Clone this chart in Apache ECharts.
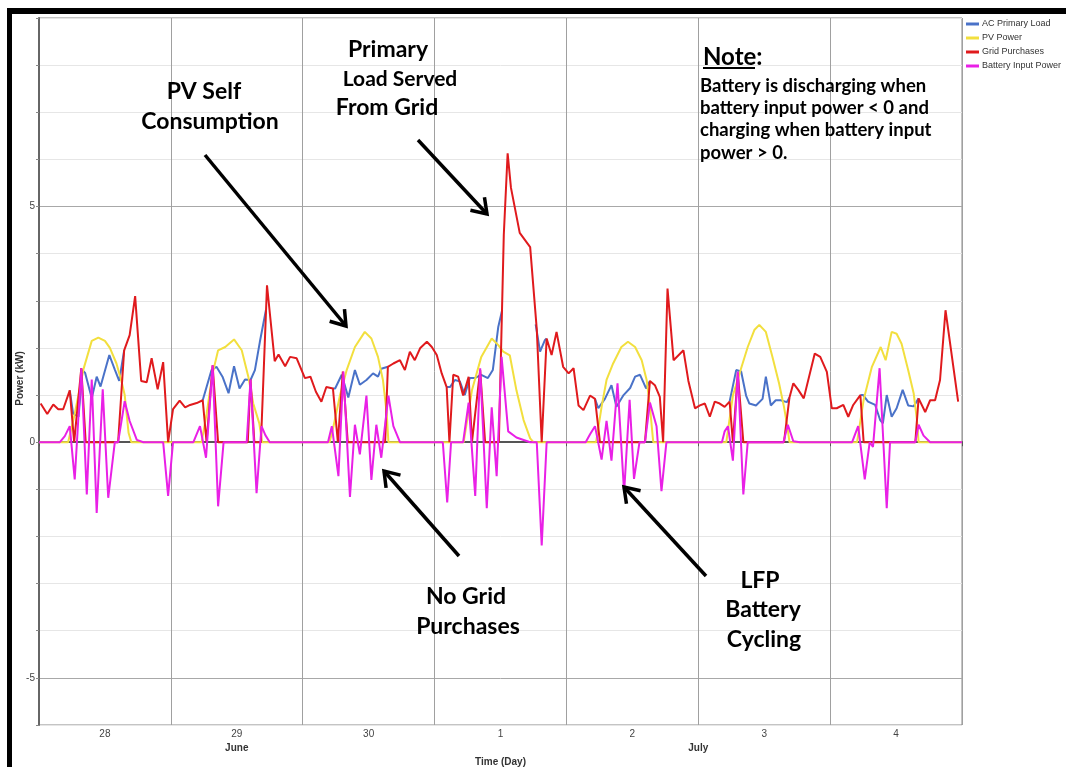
<!DOCTYPE html>
<html lang="en">
<head>
<meta charset="UTF-8">
<title>Power (kW)</title>
<script src="https://cdn.jsdelivr.net/npm/echarts@6/dist/echarts.min.js"></script>
<style>
html, body { margin: 0; padding: 0; background: #fff; }
#chart { width: 1066px; height: 767px; }
</style>
</head>
<body>
<div id="chart"></div>
<script>
// x = hours since start of 28 June, y = kW
var dayLabels = ['28', '29', '30', '1', '2', '3', '4'];
var monthTicks = [36, 120];
var monthNames = ['June', 'July'];
var legendNames = ['AC Primary Load', 'PV Power', 'Grid Purchases', 'Battery Input Power'];

// '-' breaks the line (load is hidden under grid purchases at night)
var acLoad = [
    [5.6,1.1],[6.2,0.61],[7.2,0.54],[7.9,1.53],[8.4,1.47],[9.6,0.93],[10.5,1.39],[11.2,1.18],[12.8,1.85],[13.8,1.54],[14.6,1.3],[15.5,1.95],[16,'-'],
    [29.8,0.89],[31.4,1.53],[32.3,1.6],[33.4,1.39],[34.5,1.04],[35.5,1.61],[36.5,1.14],[37.5,1.33],[38.5,1.32],[39.3,1.53],[40.2,2.13],[41.3,2.8],[42,'-'],
    [53.5,1.14],[53.9,1.14],[55.1,1.43],[56.3,0.95],[57.5,1.53],[58.4,1.22],[59.6,1.32],[60.8,1.46],[61.7,1.39],[62.3,1.56],[63.5,1.6],[64,'-'],
    [74.2,1.17],[74.8,1.17],[75.7,1.32],[76.6,1.29],[77.5,1.0],[78.4,1.36],[79.3,1.36],[80.5,1.43],[81.7,1.36],[82.6,1.53],[83.6,2.45],[84.3,2.8],[85,'-'],
    [90.4,2.5],[91.2,1.92],[92.1,2.17],[92.4,2.2],[93,'-'],
    [101.2,0.92],[101.8,0.72],[103.0,0.92],[104.2,1.21],[105.1,0.75],[106.4,1.0],[107.6,1.15],[108.5,1.39],[109.4,1.43],[110.5,1.14],[111.2,1.3],[112,'-'],
    [125.7,0.86],[126.9,1.53],[127.8,1.5],[128.7,0.99],[129.3,0.82],[130.5,0.78],[131.7,0.92],[132.3,1.39],[133.2,0.78],[134.1,0.89],[135.0,0.89],[136.1,0.85],[136.6,0.95],[137,'-'],
    [149.5,1.0],[150.0,1.0],[150.9,0.86],[152.2,0.79],[153.1,0.47],[153.6,0.4],[154.3,1.0],[155.2,0.54],[156.1,0.72],[157.2,1.11],[158.2,0.78],[159.2,0.76],[160.1,0.93]
];

var pvPower = [
    [0,0],[5.3,0],[6.5,0.6],[8.1,1.55],[9.6,2.15],[10.8,2.22],[12.0,2.15],[12.9,2.0],[14.1,1.67],[15.0,1.3],[15.6,1.0],[16.3,0.2],[16.8,0],
    [29.6,0],[30.5,0.6],[31.6,1.46],[32.6,1.95],[33.9,2.02],[35.5,2.18],[36.9,1.95],[38.1,1.39],[39.0,0.82],[40.1,0.4],[40.6,0],
    [52.9,0],[53.6,0.34],[54.8,1.0],[56.0,1.53],[57.5,2.02],[59.3,2.34],[60.5,2.2],[61.7,1.81],[62.6,1.32],[63.3,0.6],[63.6,0],
    [77.3,0],[78.8,1.1],[80.5,1.81],[82.4,2.2],[83.6,2.06],[84.5,1.92],[85.7,1.84],[86.9,1.1],[88.2,0.47],[89.4,0.08],[90,0],
    [101.4,0],[102.4,0.75],[103.3,1.32],[104.5,1.67],[106.0,2.02],[107.2,2.13],[108.5,2.02],[109.7,1.74],[110.6,1.32],[111.2,0.75],[111.8,0],
    [125.1,0],[126.3,0.99],[127.8,1.57],[129.0,2.02],[130.2,2.38],[131.1,2.49],[132.3,2.34],[133.5,1.81],[134.7,1.25],[135.6,0.75],[136.2,0.34],[136.6,0],
    [148.9,0],[150.1,0.9],[151.6,1.6],[153.2,2.02],[154.1,1.74],[155.2,2.34],[156.1,2.3],[157.0,2.09],[158.2,1.53],[159.2,1.04],[159.8,0.47],[160.1,0],[168,0]
];

var gridPurchases = [
    [0.3,0.82],[1.5,0.6],[2.6,0.8],[3.5,0.7],[4.4,0.7],[5.6,1.1],[6.4,0],[7.7,1.57],[8.5,0],[14.4,0],[15.5,1.95],[16.5,2.27],[17.5,3.1],[18.6,1.3],[19.6,1.27],[20.5,1.78],[21.6,1.12],[22.6,1.7],[23.5,0],
    [24.4,0.7],[25.6,0.88],[26.6,0.74],[27.5,0.79],[28.7,0.83],[29.8,0.89],[30.5,0],[31.6,1.63],[32.6,0],[38.0,0],[38.5,1.33],[39.2,0],[40.4,0],[41.5,3.33],[42.9,1.72],[43.6,1.86],[44.8,1.61],[45.7,1.81],[46.9,1.78],
    [48.4,1.36],[49.4,1.39],[50.4,1.07],[51.4,0.86],[52.3,1.17],[53.5,1.14],[54.4,0],[55.3,1.5],[56.2,0],[63.0,0],[63.5,1.6],[64.5,1.67],[65.7,1.74],[66.6,1.53],[67.5,1.92],[68.4,1.74],[69.4,2.0],[70.6,2.13],[71.5,2.02],
    [72.4,1.85],[73.3,1.46],[74.2,1.17],[74.7,0],[75.4,1.43],[76.3,1.39],[77.2,0.99],[78.2,1.39],[78.8,0],[80.3,1.53],[81.2,0],[83.7,0],[84.6,4.4],[85.3,6.13],[85.9,5.4],[87.5,4.44],[89.4,4.14],[90.6,2.4],[91.5,0],[92.4,2.2],[93.3,1.85],[94.2,2.34],[95.4,1.6],
    [96.4,1.46],[97.3,1.57],[98.2,0.78],[99.1,0.68],[100.3,0.99],[101.2,0.92],[102.1,0],[110.3,0],[111.2,1.3],[112.1,1.21],[113.0,0.96],[113.6,0],[114.4,3.26],[115.5,1.74],[117.3,1.95],[118.2,1.3],[119.4,0.72],
    [120.3,0.78],[121.2,0.82],[122.1,0.54],[123.0,0.86],[123.9,0.82],[124.8,0.75],[125.7,0.86],[126.3,0],[127.2,1.46],[128.2,0],[135.6,0],[136.6,0.95],[137.3,1.25],[138.2,1.11],[139.2,0.93],[141.2,1.88],[142.2,1.81],[143.4,1.49],
    [144.3,0.72],[145.2,0.72],[146.4,0.79],[147.3,0.54],[148.2,0.79],[149.5,1.0],[150.1,0],[159.5,0],[160.1,0.93],[161.3,0.64],[162.2,0.89],[163.1,0.89],[164.0,1.32],[165.0,2.8],[167.3,0.86]
];

var batteryInput = [
    [0,0],[3.8,0],[4.7,0.13],[5.6,0.34],[6.5,-0.79],[7.7,1.57],[8.7,-1.11],[9.6,1.33],[10.5,-1.5],[11.6,1.12],[12.6,-1.18],[13.8,0],[14.4,0],[15.6,0.87],[16.5,0.45],[17.8,0.05],[19.0,0],[22.6,0],[23.5,-1.14],[24.4,0],
    [28.1,0],[29.3,0.34],[30.4,-0.33],[31.6,1.63],[32.6,-1.36],[33.6,0],[37.8,0],[38.5,1.33],[39.6,-1.08],[40.5,0.34],[41.2,0.15],[42.0,0],
    [52.6,0],[53.3,0.34],[54.5,-0.72],[55.4,1.5],[56.6,-1.16],[57.5,0.37],[58.4,-0.26],[59.6,0.99],[60.5,-0.8],[61.4,0.37],[62.3,-0.33],[63.6,0.99],[64.5,0.34],[65.7,0],
    [73.5,0],[74.3,-1.28],[75.0,0],[77.2,0],[78.2,0.84],[79.4,-1.14],[80.3,1.57],[81.5,-1.4],[82.4,0.74],[83.3,-0.72],[84.2,1.81],[85.4,0.23],[86.9,0.1],[89.4,0],[90.6,0],[91.5,-2.19],[92.4,0],
    [99.5,0],[100.3,0.17],[101.2,0.34],[102.4,-0.37],[103.3,0.45],[104.2,-0.39],[105.3,1.25],[106.5,-1.07],[107.5,0.9],[108.3,-0.78],[109.3,0],[110.3,0],[111.2,0.84],[112.4,0.34],[113.3,-1.04],[114.2,0],
    [124.3,0],[124.8,0.23],[125.4,0.34],[126.3,-0.39],[127.2,1.5],[128.2,-1.11],[129.0,0],[135.5,0],[136.3,0.37],[137.3,0.02],[138.5,0],
    [148.0,0],[149.1,0.34],[150.3,-0.79],[151.2,0],[151.8,-0.1],[153.0,1.57],[154.3,-1.4],[154.9,0],[159.5,0],[160.1,0.37],[161.0,0.14],[162.2,0],[168,0]
];

var chart = echarts.init(document.getElementById('chart'));

// arrow = thick line + open V head at (x2, y2)
function arrow(x1, y1, x2, y2) {
    var a = Math.atan2(y2 - y1, x2 - x1), len = 17, spread = 0.6;
    var p1 = [x2 - len * Math.cos(a - spread), y2 - len * Math.sin(a - spread)];
    var p2 = [x2 - len * Math.cos(a + spread), y2 - len * Math.sin(a + spread)];
    return [
        {type: 'line', z: 100, shape: {x1: x1, y1: y1, x2: x2, y2: y2}, style: {stroke: '#000', lineWidth: 3.5}},
        {type: 'polyline', z: 100, shape: {points: [p1, [x2, y2], p2]}, style: {stroke: '#000', lineWidth: 3.5, fill: null}}
    ];
}

var bigFont = 'bold 23px Lato, "Open Sans", sans-serif';
var noteFont = 'bold 18.5px Lato, "Open Sans", sans-serif';
function label(txt, x, y, font, align) {
    return {
        type: 'text', z: 100, x: x, y: y,
        style: {text: txt, font: font, fill: '#000', align: align || 'center', verticalAlign: 'middle',
                textAlign: align || 'center', textVerticalAlign: 'middle'}
    };
}

var graphics = [
    // black frame of the original figure
    {type: 'rect', shape: {x: 7, y: 8, width: 5, height: 759}, style: {fill: '#000'}},
    {type: 'rect', shape: {x: 7, y: 8, width: 1059, height: 6}, style: {fill: '#000'}},
    label('PV Self', 204, 92, bigFont),
    label('Consumption', 210, 122, bigFont),
    label('Primary', 388, 50, bigFont),
    label('Load Served', 400, 79, 'bold 21px Lato, "Open Sans", sans-serif'),
    label('From Grid', 387, 108, bigFont),
    label('No Grid', 466, 597, bigFont),
    label('Purchases', 468, 627, bigFont),
    label('LFP', 760, 581, bigFont),
    label('Battery', 763, 610, bigFont),
    label('Cycling', 764, 640, bigFont),
    label('Note:', 703, 57, 'bold 24px Lato, "Open Sans", sans-serif', 'left'),
    {type: 'line', z: 100, shape: {x1: 703, y1: 68, x2: 755, y2: 68}, style: {stroke: '#000', lineWidth: 2}},
    label('Battery is discharging when', 700, 86, noteFont, 'left'),
    label('battery input power < 0 and', 700, 108, noteFont, 'left'),
    label('charging when battery input', 700, 130, noteFont, 'left'),
    label('power > 0.', 700, 153, noteFont, 'left')
]
    .concat(arrow(205, 155, 346, 326))
    .concat(arrow(418, 140, 487, 214))
    .concat(arrow(459, 556, 384, 471))
    .concat(arrow(706, 576, 624, 487));

var axisFont = 'Liberation Sans, Arial, sans-serif';

var option = {
    animation: false,
    backgroundColor: '#fff',
    color: ['#4a72c8', '#f2df3e', '#e01a1d', '#e920e6'],
    grid: {left: 39, top: 18, right: 104, bottom: 42, outerBoundsMode: 'none', containLabel: false,
           show: true, borderColor: '#888', borderWidth: 1},
    legend: {
        orient: 'vertical', left: 966, top: 18, padding: 0, itemGap: 2,
        icon: 'rect', itemWidth: 13, itemHeight: 3,
        textStyle: {fontFamily: axisFont, fontSize: 9, color: '#333', lineHeight: 12, padding: [0, 0, 0, -2]},
        data: legendNames
    },
    xAxis: [{
        type: 'value', min: 0, max: 168, interval: 24,
        name: 'Time (Day)', nameLocation: 'middle', nameGap: 32, nameMoveOverlap: false,
        nameTextStyle: {fontFamily: axisFont, fontSize: 10, fontWeight: 'bold', color: '#333'},
        axisLine: {lineStyle: {color: '#555', width: 2}},
        axisTick: {show: true, length: 4, lineStyle: {color: '#555'}},
        axisLabel: {show: false},
        splitLine: {show: true, lineStyle: {color: '#a0a0a0', width: 1}}
    }, {
        type: 'category', data: dayLabels, position: 'bottom',
        axisLine: {show: false}, axisTick: {show: false},
        axisLabel: {margin: 4, fontFamily: axisFont, fontSize: 10, color: '#444'}
    }, {
        type: 'value', min: 0, max: 168, interval: 12, position: 'bottom', offset: 14,
        axisLine: {show: false}, axisTick: {show: false}, splitLine: {show: false},
        axisLabel: {
            margin: 4, fontFamily: axisFont, fontSize: 10, fontWeight: 'bold', color: '#333',
            formatter: function (v) {
                var i = monthTicks.indexOf(v);
                return i < 0 ? '' : monthNames[i];
            }
        }
    }],
    yAxis: {
        type: 'value', min: -6, max: 9, interval: 1,
        name: 'Power (kW)', nameLocation: 'middle', nameGap: 14, nameMoveOverlap: false,
        nameTextStyle: {fontFamily: axisFont, fontSize: 10, fontWeight: 'bold', color: '#333', padding: [0, 14, 0, 0]},
        axisLine: {show: true, lineStyle: {color: '#666', width: 2}},
        axisTick: {show: true, length: 3, lineStyle: {color: '#888'}},
        axisLabel: {
            margin: 4, fontFamily: axisFont, fontSize: 10, color: '#444',
            formatter: function (v) { return v % 5 === 0 ? String(v) : ''; }
        },
        splitLine: {show: true, lineStyle: {color: ['#e6e6e6', '#a8a8a8', '#e6e6e6', '#e6e6e6', '#e6e6e6'], width: 1}}
    },
    series: [
        {name: legendNames[0], type: 'line', data: acLoad, showSymbol: false, symbol: 'none', connectNulls: false, lineStyle: {width: 2}},
        {name: legendNames[1], type: 'line', data: pvPower, showSymbol: false, symbol: 'none', lineStyle: {width: 2}},
        {name: legendNames[2], type: 'line', data: gridPurchases, showSymbol: false, symbol: 'none', lineStyle: {width: 2}},
        {name: legendNames[3], type: 'line', data: batteryInput, showSymbol: false, symbol: 'none', lineStyle: {width: 2}}
    ],
    graphic: graphics
};

chart.setOption(option);
</script>
</body>
</html>
